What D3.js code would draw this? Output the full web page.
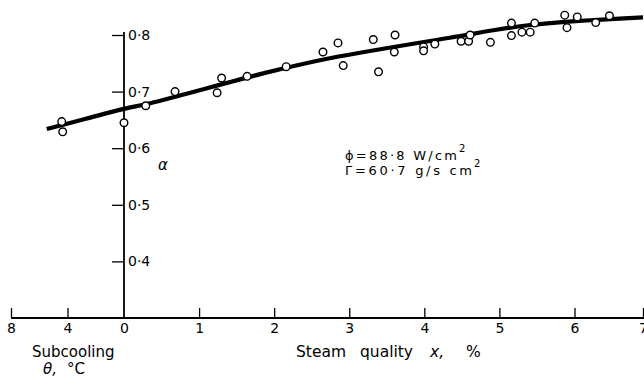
<!DOCTYPE html>
<html>
<head>
<meta charset="utf-8">
<script src="https://cdn.jsdelivr.net/npm/d3@7/dist/d3.min.js"></script>
<style>
  html, body { margin: 0; padding: 0; background: #fff; }
  svg { display: block; }
  text { font-family: "DejaVu Sans", sans-serif; fill: #000; }
</style>
</head>
<body>
<svg id="chart" width="644" height="381"></svg>
<script>
// Subcooled region: subcooling θ (°C) and void fraction α
const subcoolTheta = [4.41, 4.34];
const subcoolAlpha = [0.647, 0.629];

// Boiling region: steam quality x (%) and void fraction α
const qualityX = [0.0, 0.29, 0.68, 1.24, 1.30, 1.64, 2.16, 2.65, 2.85, 2.92, 3.32, 3.39,
                  3.61, 3.60, 3.99, 3.99, 4.14, 4.49, 4.59, 4.61, 4.88, 5.16, 5.16, 5.30,
                  5.41, 5.47, 5.87, 5.90, 6.04, 6.31, 6.51];
const qualityAlpha = [0.645, 0.675, 0.700, 0.698, 0.724, 0.727, 0.744, 0.770, 0.786, 0.746, 0.792, 0.735,
                      0.800, 0.770, 0.779, 0.772, 0.784, 0.789, 0.789, 0.800, 0.787, 0.821, 0.799, 0.805,
                      0.805, 0.821, 0.835, 0.813, 0.832, 0.822, 0.834];

// Fitted curve, split across the two abscissae
const curveTheta = [5.47, 2.7, 0];
const curveThetaAlpha = [0.634, 0.652, 0.6695];
const curveQuality = [0.35, 1.95, 2.74, 4.34, 5.41, 7.0];
const curveQualityAlpha = [0.6795, 0.7353, 0.7589, 0.7952, 0.8176, 0.8312];

// Tick values
const qualityTicks = [0, 1, 2, 3, 4, 5, 6, 7];
const subcoolTicks = [8, 4];
const alphaTicks = [0.4, 0.5, 0.6, 0.7, 0.8];

const svg = d3.select("#chart");

const xq = d3.scaleLinear().domain([0, 6, 7]).range([124, 574.5, 643]);
const xs = d3.scaleLinear().domain([0, 8]).range([124, 11]);
const y = d3.scaleLinear().domain([0.3, 0.8]).range([318, 35]);
const baseY = y(0.3);
const fmt = v => d3.format(".1f")(v).replace(".", "·");

// Horizontal base line
svg.append("line")
  .attr("x1", xs(8)).attr("x2", 644)
  .attr("y1", baseY).attr("y2", baseY)
  .attr("stroke", "#000").attr("stroke-width", 1.8);

// Quality axis ticks (upward) and labels
const qAxis = d3.axisBottom(xq).tickValues(qualityTicks)
  .tickSizeInner(-10).tickSizeOuter(0).tickPadding(5)
  .tickFormat(d3.format("d"));
const gq = svg.append("g").attr("transform", `translate(0,${baseY})`).call(qAxis);
gq.select(".domain").remove();
gq.selectAll(".tick line").attr("stroke", "#000").attr("stroke-width", 1.3)
  .filter(d => d === 0).remove();
gq.selectAll(".tick text").attr("font-size", 14).attr("fill", "#000")
  .attr("font-family", "DejaVu Sans, sans-serif");

// Subcooling axis ticks
const sAxis = d3.axisBottom(xs).tickValues(subcoolTicks)
  .tickSizeInner(-10).tickSizeOuter(0).tickPadding(5)
  .tickFormat(d3.format("d"));
const gs = svg.append("g").attr("transform", `translate(0,${baseY})`).call(sAxis);
gs.select(".domain").remove();
gs.selectAll(".tick line").attr("stroke", "#000").attr("stroke-width", 1.3);
gs.selectAll(".tick text").attr("font-size", 14).attr("fill", "#000")
  .attr("font-family", "DejaVu Sans, sans-serif");

// Vertical α axis at x = 0
const x0 = xq(0);
svg.append("line")
  .attr("x1", x0).attr("x2", x0)
  .attr("y1", 32).attr("y2", baseY)
  .attr("stroke", "#000").attr("stroke-width", 1.8);
const yAxis = d3.axisRight(y).tickValues(alphaTicks)
  .tickSizeInner(-12).tickSizeOuter(0).tickPadding(4).tickFormat(fmt);
const gy = svg.append("g").attr("transform", `translate(${x0},0)`).call(yAxis);
gy.select(".domain").remove();
gy.selectAll(".tick line").attr("stroke", "#000").attr("stroke-width", 1.3);
gy.selectAll(".tick text").attr("font-size", 14).attr("fill", "#000")
  .attr("font-family", "DejaVu Sans, sans-serif");

// α label
svg.append("text").attr("x", 158).attr("y", 170)
  .attr("font-size", 15).attr("font-style", "italic").text("α");

// Fitted curve
const curvePts = curveTheta.map((t, i) => [xs(t), y(curveThetaAlpha[i])])
  .concat(curveQuality.map((q, i) => [xq(q), y(curveQualityAlpha[i])]));
svg.append("path")
  .attr("d", d3.line().curve(d3.curveCatmullRom.alpha(0.5))(curvePts))
  .attr("fill", "none").attr("stroke", "#000").attr("stroke-width", 4.2)
  .attr("stroke-linecap", "butt");

// Measured points
const pts = subcoolTheta.map((t, i) => [xs(t), y(subcoolAlpha[i])])
  .concat(qualityX.map((q, i) => [xq(q), y(qualityAlpha[i])]));
svg.append("g").selectAll("circle").data(pts).join("circle")
  .attr("cx", d => d[0]).attr("cy", d => d[1]).attr("r", 3.8)
  .attr("fill", "#fff").attr("stroke", "#000").attr("stroke-width", 1.4);

// Axis titles
svg.append("text").attr("x", 32).attr("y", 357).attr("font-size", 15).text("Subcooling");
svg.append("text").attr("x", 43).attr("y", 374).attr("font-size", 15)
  .attr("font-style", "italic").text("θ,");
svg.append("text").attr("x", 67).attr("y", 374).attr("font-size", 15).text("°C");

svg.append("text").attr("x", 296).attr("y", 357).attr("font-size", 15.5).text("Steam");
svg.append("text").attr("x", 360).attr("y", 357).attr("font-size", 15.5).text("quality");
svg.append("text").attr("x", 430).attr("y", 357).attr("font-size", 15.5)
  .attr("font-style", "italic").text("x,");
svg.append("text").attr("x", 466).attr("y", 357).attr("font-size", 15.5).text("%");

// Operating conditions
svg.append("text").attr("x", 345).attr("y", 159.5).attr("font-size", 13)
  .attr("textLength", 112).attr("lengthAdjust", "spacing").text("ϕ=88·8 W/cm");
svg.append("text").attr("x", 459).attr("y", 152).attr("font-size", 10).text("2");
svg.append("text").attr("x", 345).attr("y", 174.5).attr("font-size", 13)
  .attr("textLength", 127).attr("lengthAdjust", "spacing").text("Γ=60·7 g/s cm");
svg.append("text").attr("x", 474).attr("y", 166.5).attr("font-size", 10).text("2");
</script>
</body>
</html>
